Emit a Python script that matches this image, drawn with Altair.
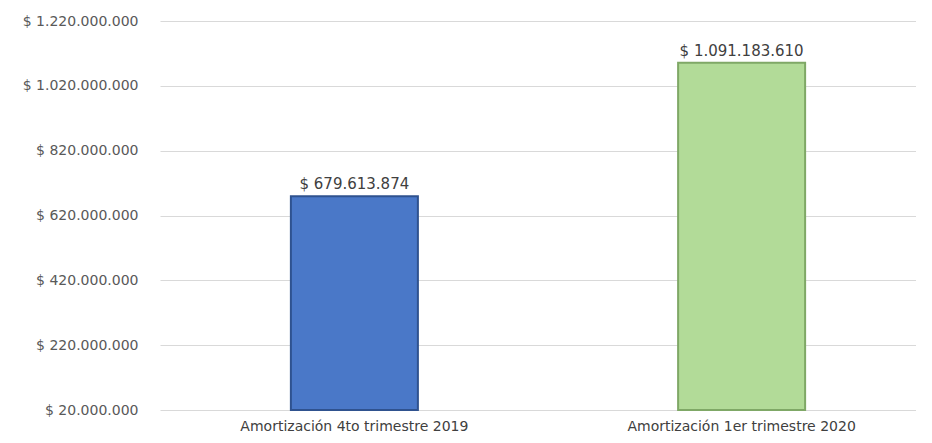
import altair as alt
import pandas as pd

categories = ["Amortización 4to trimestre 2019", "Amortización 1er trimestre 2020"]
values = [679613874, 1091183610]
colors = ["#4A78C8", "#B2DB98"]
strokes = ["#2F528F", "#7FA866"]
y_ticks = [20000000, 220000000, 420000000, 620000000, 820000000, 1020000000, 1220000000]

df = pd.DataFrame({"cat": categories, "val": values, "color": colors, "stroke": strokes})
df["base"] = y_ticks[0]
df["label"] = df["val"].map(lambda v: "$ " + f"{v:,.0f}".replace(",", "."))

font = "DejaVu Sans"

x = alt.X("cat:N", sort=categories, title=None,
          scale=alt.Scale(range=[0, 776], paddingInner=0.672, paddingOuter=0.338),
          axis=alt.Axis(labelAngle=0, labelFont=font, labelFontSize=14, labelColor="#404040",
                        domain=False, ticks=False, grid=False, labelPadding=9, labelLimit=0))
y = alt.Y("val:Q", title=None,
          scale=alt.Scale(domain=[y_ticks[0], y_ticks[-1]], nice=False, zero=False),
          axis=alt.Axis(values=y_ticks, domain=False, ticks=False, labelFont=font, labelFontSize=14,
                        labelColor="#595959", labelPadding=22, gridColor="#D9D9D9",
                        labelExpr="'$ ' + replace(format(datum.value, ',.0f'), /,/g, '.')"))

base = alt.Chart(df)
bars = base.mark_bar(strokeWidth=2).encode(
    x=x, y=y, y2="base:Q",
    color=alt.Color("color:N", scale=None),
    stroke=alt.Stroke("stroke:N", scale=None),
)
text = base.mark_text(dy=-12, font=font, fontSize=15, color="#404040").encode(
    x=alt.X("cat:N", sort=categories), y="val:Q", text="label:N"
)

chart = (bars + text).properties(
    width=756, height=389,
    autosize=alt.AutoSizeParams(type="none"),
    padding={"left": 152, "top": 13, "right": 0, "bottom": 25},
    background="white",
).configure_view(stroke=None)

chart.save("out.html", embed_options={"renderer": "svg", "actions": False})
